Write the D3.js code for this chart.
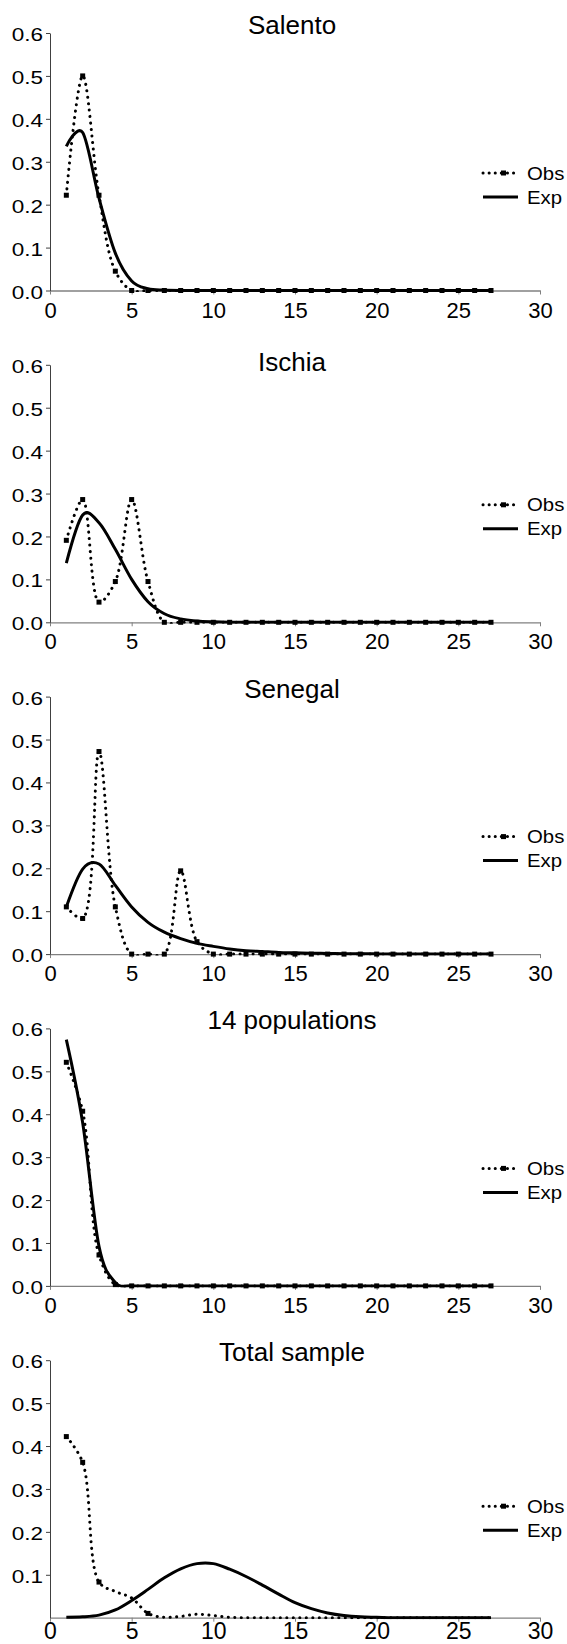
<!DOCTYPE html>
<html>
<head>
<meta charset="utf-8">
<script src="https://cdn.jsdelivr.net/npm/d3@7"></script>
<style>
  body { margin: 0; background: #fff; }
  text { font-family: Arial, "Liberation Sans", sans-serif; fill: #000; }
</style>
</head>
<body>
<div id="chart"></div>
<script>
// categories (number of something, 1..27)
var xValues = [1, 2, 3, 4, 5, 6, 7, 8, 9, 10, 11, 12, 13, 14, 15, 16, 17, 18, 19, 20, 21, 22, 23, 24, 25, 26, 27];
var xTicks = [0, 5, 10, 15, 20, 25, 30];
var yTicks = [0, 0.1, 0.2, 0.3, 0.4, 0.5, 0.6];

var titles = ["Salento", "Ischia", "Senegal", "14 populations", "Total sample"];

var salentoObs = [0.222, 0.50, 0.222, 0.045, 0, 0, 0, 0, 0, 0, 0, 0, 0, 0, 0, 0, 0, 0, 0, 0, 0, 0, 0, 0, 0, 0, 0];
var salentoExp = [0.336, 0.368, 0.215, 0.087, 0.022, 0.004, 0.001, 0, 0, 0, 0, 0, 0, 0, 0, 0, 0, 0, 0, 0, 0, 0, 0, 0, 0, 0, 0];

var ischiaObs = [0.191, 0.286, 0.047, 0.095, 0.286, 0.095, 0, 0, 0, 0, 0, 0, 0, 0, 0, 0, 0, 0, 0, 0, 0, 0, 0, 0, 0, 0, 0];
var ischiaExp = [0.138, 0.250, 0.232, 0.170, 0.100, 0.048, 0.020, 0.008, 0.003, 0.001, 0, 0, 0, 0, 0, 0, 0, 0, 0, 0, 0, 0, 0, 0, 0, 0, 0];

var senegalObs = [0.110, 0.083, 0.472, 0.110, 0, 0, 0, 0.194, 0.029, 0, 0, 0, 0, 0, 0, 0, 0, 0, 0, 0, 0, 0, 0, 0, 0, 0, 0];
var senegalExp = [0.110, 0.198, 0.210, 0.160, 0.110, 0.074, 0.051, 0.036, 0.025, 0.018, 0.012, 0.008, 0.006, 0.004, 0.003, 0.002, 0.0015, 0.001, 0.001, 0.0005, 0.0005, 0, 0, 0, 0, 0, 0];

var pop14Obs = [0.521, 0.407, 0.072, 0.003, 0, 0, 0, 0, 0, 0, 0, 0, 0, 0, 0, 0, 0, 0, 0, 0, 0, 0, 0, 0, 0, 0, 0];
var pop14Exp = [0.574, 0.380, 0.092, 0.008, 0.0005, 0, 0, 0, 0, 0, 0, 0, 0, 0, 0, 0, 0, 0, 0, 0, 0, 0, 0, 0, 0, 0, 0];

var totalObs = [0.422, 0.362, 0.083, 0.061, 0.046, 0.010, 0.001, 0.003, 0.008, 0.005, 0.001, 0, 0, 0, 0, 0, 0, 0, 0, 0, 0, 0, 0, 0, 0, 0, 0];
var totalExp = [0.001, 0.002, 0.006, 0.018, 0.040, 0.066, 0.093, 0.114, 0.126, 0.126, 0.113, 0.096, 0.076, 0.055, 0.035, 0.021, 0.011, 0.005, 0.002, 0.001, 0, 0, 0, 0, 0, 0, 0];
// the total sample only shows markers at these x values
var totalMarkers = [1, 2, 3, 6];

var panels = [
  { title: titles[0], obs: salentoObs, exp: salentoExp, markers: xValues },
  { title: titles[1], obs: ischiaObs, exp: ischiaExp, markers: xValues },
  { title: titles[2], obs: senegalObs, exp: senegalExp, markers: xValues },
  { title: titles[3], obs: pop14Obs, exp: pop14Exp, markers: xValues },
  { title: titles[4], obs: totalObs, exp: totalExp, markers: totalMarkers }
];

var svgWidth = 567;
var svgHeight = 1644;
var plotLeft = 50, plotRight = 540;
var panelTop = 33, panelStep = 331.8, plotHeight = 257.5;

var svg = d3.select("#chart")
  .append("svg")
  .attr("width", svgWidth)
  .attr("height", svgHeight);

svg.append("rect")
  .attr("width", svgWidth)
  .attr("height", svgHeight)
  .attr("fill", "#fff");

// lines are clipped at the bottom of the plot area (y = 0)
svg.append("defs")
  .append("clipPath")
  .attr("id", "plotClip")
  .append("rect")
  .attr("x", 0)
  .attr("y", -40)
  .attr("width", svgWidth)
  .attr("height", plotHeight + 41.5);

var xScale = d3.scaleLinear().domain([0, 30]).range([plotLeft, plotRight]);
var yScale = d3.scaleLinear().domain([0, 0.6]).range([plotHeight, 0]);

// smoothed lines; the observed one uses centripetal smoothing so the
// short steps next to steep ones don't bulge
var expLine = d3.line()
  .x(d => xScale(d.x))
  .y(d => yScale(d.v))
  .curve(d3.curveCatmullRom.alpha(0));

var obsLine = d3.line()
  .x(d => xScale(d.x))
  .y(d => yScale(d.v))
  .curve(d3.curveCatmullRom);

panels.forEach(function(p, i) {
  var last = i === panels.length - 1;
  var top = panelTop + i * panelStep;
  var g = svg.append("g").attr("transform", `translate(0, ${top})`);

  var obsData = xValues.map((x, k) => ({ x: x, v: p.obs[k] }));
  var expData = xValues.map((x, k) => ({ x: x, v: p.exp[k] }));

  // title
  g.append("text")
    .attr("x", 292)
    .attr("y", i === 1 ? 6 : 1)
    .attr("text-anchor", "middle")
    .style("font-size", "26px")
    .text(p.title);

  // x axis
  var xAxis = g.append("g")
    .attr("transform", `translate(0, ${plotHeight})`)
    .call(d3.axisBottom(xScale).tickValues(xTicks).tickSize(4).tickSizeOuter(0));
  xAxis.select(".domain").attr("stroke", "#808080").attr("stroke-width", 1.3);
  xAxis.selectAll(".tick line").attr("stroke", "#808080");
  xAxis.selectAll(".tick text")
    .attr("y", last ? 4.5 : 11.5)
    .style("font-size", last ? "23px" : "22px");

  // y axis
  var yAxis = g.append("g")
    .attr("transform", `translate(${plotLeft}, 0)`)
    .call(d3.axisLeft(yScale)
      .tickValues(last ? yTicks.filter(d => d > 0) : yTicks)
      .tickSize(4).tickSizeOuter(0)
      .tickFormat(d3.format(".1f")));
  yAxis.select(".domain").attr("stroke", "#404040");
  yAxis.selectAll(".tick line").attr("stroke", "#404040");
  yAxis.selectAll(".tick text")
    .attr("x", 0)
    .attr("dy", "0.42em")
    .attr("transform", "translate(-7,0) scale(1.25,1)")
    .style("font-size", "18px");

  var series = g.append("g").attr("clip-path", "url(#plotClip)");

  // expected curve
  series.append("path")
    .datum(expData)
    .attr("d", expLine)
    .attr("fill", "none")
    .attr("stroke", "#000")
    .attr("stroke-width", 3);

  // observed curve (round dots)
  series.append("path")
    .datum(obsData)
    .attr("d", obsLine)
    .attr("fill", "none")
    .attr("stroke", "#000")
    .attr("stroke-width", 3)
    .attr("stroke-linecap", "round")
    .attr("stroke-dasharray", "0.1,6.4");

  g.selectAll(".marker")
    .data(obsData.filter(d => p.markers.indexOf(d.x) >= 0))
    .enter()
    .append("rect")
    .attr("class", "marker")
    .attr("x", d => xScale(d.x) - 2.5)
    .attr("y", d => yScale(d.v) - 2.5)
    .attr("width", 5)
    .attr("height", 5)
    .attr("fill", "#000");

  // legend
  var legend = g.append("g").attr("transform", `translate(483, ${last ? 146 : 140})`);
  legend.append("line")
    .attr("x1", 0).attr("x2", 34).attr("y1", 0).attr("y2", 0)
    .attr("stroke", "#000")
    .attr("stroke-width", 3)
    .attr("stroke-linecap", "round")
    .attr("stroke-dasharray", "0.1,6");
  legend.append("rect")
    .attr("x", 18).attr("y", -2.5).attr("width", 5).attr("height", 5)
    .attr("fill", "#000");
  legend.append("line")
    .attr("x1", 0).attr("x2", 35).attr("y1", 24).attr("y2", 24)
    .attr("stroke", "#000")
    .attr("stroke-width", 3);
  legend.append("text")
    .attr("transform", "translate(44, 6.5) scale(1.1,1)")
    .style("font-size", "18.5px")
    .text("Obs");
  legend.append("text")
    .attr("transform", "translate(44, 30.5) scale(1.1,1)")
    .style("font-size", "18.5px")
    .text("Exp");
});
</script>
</body>
</html>
